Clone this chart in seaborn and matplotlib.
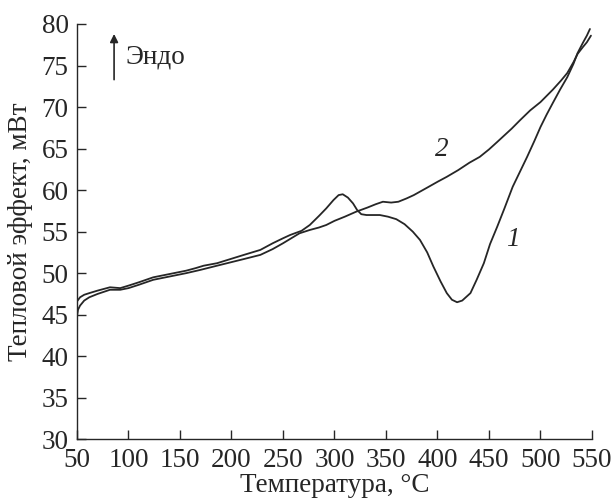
import matplotlib
matplotlib.use("Agg")
import matplotlib.pyplot as plt
import seaborn as sns
import pandas as pd

# DSC traces: temperature (°C) and heat flow (mW)
temp_1 = [50, 53, 57, 62, 70, 82, 92, 100, 110, 124, 140, 156, 165, 173, 186,
          199, 212, 228, 240, 250, 257, 268, 276, 285, 292, 299, 304, 308, 313,
          318, 322, 326, 331, 338, 344, 352, 360, 368, 376, 383, 390, 396, 403,
          409, 414, 419, 424, 432, 438, 445, 451, 458, 465, 473, 480, 487, 494,
          500, 506, 512, 519, 526, 532, 536, 541, 545, 548]
heat_1 = [46.6, 47.1, 47.4, 47.6, 47.9, 48.3, 48.2, 48.5, 48.9, 49.5, 49.9,
          50.3, 50.6, 50.9, 51.2, 51.7, 52.2, 52.8, 53.6, 54.2, 54.6, 55.1,
          55.8, 56.9, 57.8, 58.8, 59.4, 59.5, 59.1, 58.4, 57.6, 57.1, 57.0,
          57.0, 57.0, 56.8, 56.5, 55.9, 55.0, 54.0, 52.5, 50.8, 49.0, 47.6,
          46.8, 46.5, 46.7, 47.6, 49.2, 51.2, 53.5, 55.6, 57.8, 60.4, 62.2,
          64.0, 65.9, 67.6, 69.1, 70.5, 72.1, 73.6, 75.2, 76.5, 77.7, 78.6, 79.4]

temp_2 = [50, 51, 53, 57, 62, 70, 82, 92, 100, 110, 124, 140, 156, 170, 186,
          199, 212, 228, 240, 250, 258, 266, 276, 285, 292, 300, 310, 321, 332,
          340, 347, 355, 362, 370, 377, 390, 400, 409, 420, 431, 441, 450, 458,
          465, 472, 480, 490, 500, 512, 520, 526, 532, 536, 541, 545, 549]
heat_2 = [44.8, 45.6, 46.1, 46.7, 47.1, 47.5, 48.0, 48.0, 48.2, 48.6, 49.2,
          49.6, 50.0, 50.4, 50.9, 51.3, 51.7, 52.2, 52.9, 53.6, 54.2, 54.8,
          55.2, 55.5, 55.8, 56.3, 56.8, 57.4, 57.9, 58.3, 58.6, 58.5, 58.6,
          59.0, 59.4, 60.3, 61.0, 61.6, 62.4, 63.3, 64.0, 64.9, 65.8, 66.6,
          67.4, 68.4, 69.6, 70.6, 72.1, 73.2, 74.1, 75.4, 76.4, 77.2, 77.8, 78.6]

x_ticks = [50, 100, 150, 200, 250, 300, 350, 400, 450, 500, 550]
y_ticks = [30, 35, 40, 45, 50, 55, 60, 65, 70, 75, 80]

df = pd.concat([
    pd.DataFrame({"T": temp_1, "Q": heat_1, "curve": "1"}),
    pd.DataFrame({"T": temp_2, "Q": heat_2, "curve": "2"}),
], ignore_index=True)

sns.set_style("ticks")
plt.rcParams["font.family"] = ["Liberation Serif", "DejaVu Serif"]

fig = plt.figure(figsize=(6.15, 5.01), dpi=100)
ax = fig.add_axes([0.1252, 0.1232, 0.8374, 0.8289])

ink = "#262626"
fs = 19.5
sns.lineplot(data=df, x="T", y="Q", hue="curve", units="curve",
             estimator=None, sort=False, palette={"1": ink, "2": ink},
             linewidth=1.3, legend=False, ax=ax)

ax.set_xlim(50, 550)
ax.set_ylim(30, 80)
ax.set_xticks(x_ticks)
ax.set_yticks(y_ticks)
ax.tick_params(direction="in", length=6.5, width=1.0, labelsize=fs,
               colors=ink)
ax.tick_params(axis="x", pad=6)
ax.tick_params(axis="y", pad=6)
for side in ("top", "right"):
    ax.spines[side].set_visible(False)
for side in ("left", "bottom"):
    ax.spines[side].set_linewidth(1.0)
    ax.spines[side].set_color(ink)

ax.set_xlabel("Температура, °С", fontsize=fs, color=ink, labelpad=0)
ax.set_ylabel("Тепловой эффект, мВт", fontsize=fs, color=ink, labelpad=6)

# curve numbers
ax.text(404, 64.9, "2", fontsize=fs, style="italic", color=ink,
        ha="center", va="center")
ax.text(473.5, 54.0, "1", fontsize=fs, style="italic", color=ink,
        ha="center", va="center")

# endothermic direction marker
ax.annotate("", xy=(86, 78.8), xytext=(86, 73.3),
            arrowprops=dict(arrowstyle="-|>", color=ink, lw=1.2,
                            mutation_scale=12, shrinkA=0, shrinkB=0))
ax.text(97, 76.0, "Эндо", fontsize=fs, color=ink, ha="left", va="center")

fig.savefig("out.png", dpi=100)
